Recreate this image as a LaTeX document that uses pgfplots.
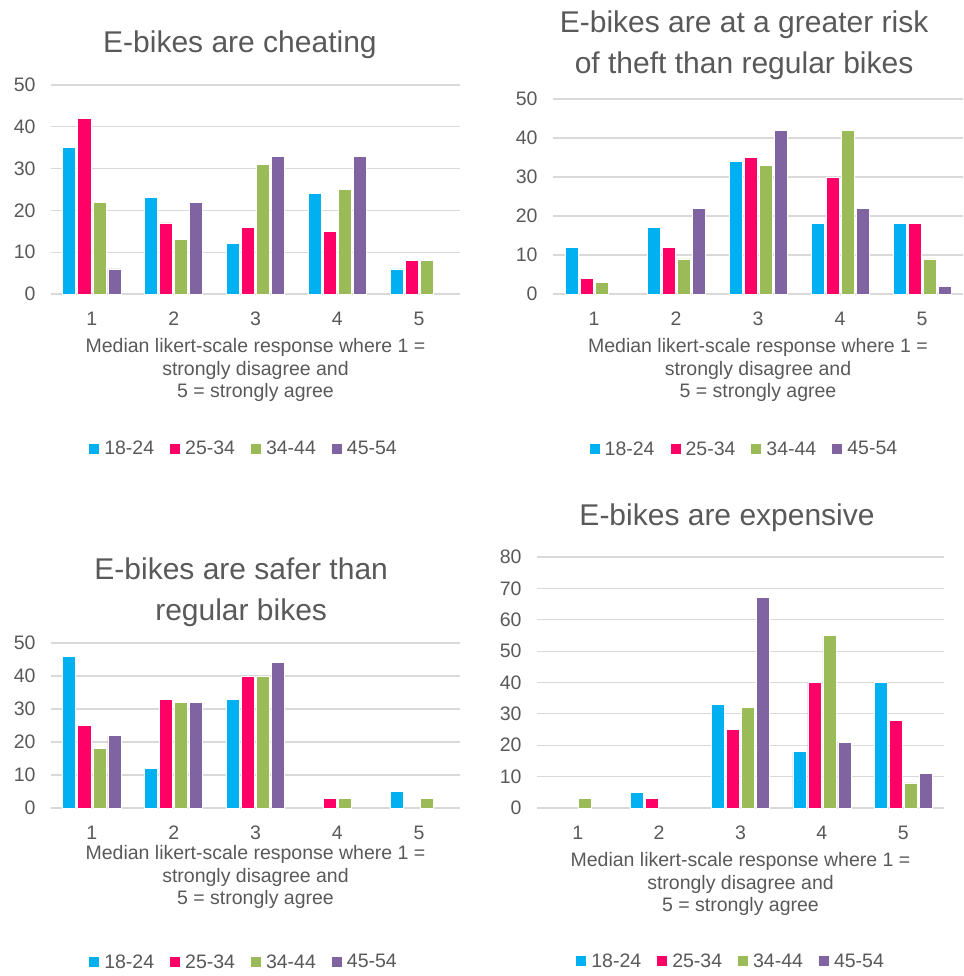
\documentclass[border=0pt]{standalone}
\usepackage{fontspec}
\setmainfont{Liberation Sans}
\usepackage{pgfplots}
\pgfplotsset{compat=1.18}
\definecolor{c1}{HTML}{00B0F0}
\definecolor{c2}{HTML}{FF0066}
\definecolor{c3}{HTML}{9BBB59}
\definecolor{c4}{HTML}{8064A2}
\definecolor{txt}{HTML}{595959}
\definecolor{gridc}{HTML}{D9D9D9}
\pgfplotsset{
 panel/.style={
  scale only axis,
  ybar=2pt, bar width=13pt,
  xmin=0.5, xmax=5.5,
  xtick={1,2,3,4,5},
  axis line style={draw=none},
  tick style={draw=none},
  ymajorgrids, grid style={gridc, line width=1.2pt},
  ymin=0,
  tick label style={font=\fontsize{19.5}{23}\selectfont, text=txt},
  /pgf/number format/assume math mode=true,
  xticklabel style={yshift=-10.5pt},
  yticklabel style={xshift=-12pt},
  title style={font=\fontsize{30}{41}\selectfont, text=txt, align=center, anchor=center},
  xlabel style={font=\fontsize{19.5}{22.7}\selectfont, text=txt, align=center, anchor=center},
  xlabel={Median likert-scale response where 1 =\\strongly disagree and\\5 = strongly agree},
  legend style={draw=none, fill=none, legend columns=4, font=\fontsize{19.5}{23}\selectfont, text=txt, anchor=center,
     /tikz/every even column/.append style={column sep=14pt}},
  legend image code/.code={\fill[#1,draw=none] (0pt,-5pt) rectangle (10pt,5pt); \path[draw=none,fill=none] (0pt,0pt) -- (13pt,0pt);},
 },
 s1/.style={fill=c1, draw=white, line width=0.8pt},
 s2/.style={fill=c2, draw=white, line width=0.8pt},
 s3/.style={fill=c3, draw=white, line width=0.8pt},
 s4/.style={fill=c4, draw=white, line width=0.8pt},
}
\begin{document}
\begin{tikzpicture}
\path[use as bounding box] (0pt,0pt) rectangle (963pt,-976pt);
% Panel 1
\begin{axis}[panel, at={(51pt,-294pt)}, anchor=south west, width=409pt, height=209pt,
  ymax=50, ytick={0,10,...,50},
  title={E-bikes are cheating}, title style={at={(axis description cs:0.462,1.163)}},
  xlabel style={at={(axis description cs:0.5,-0.364)}},
  legend style={at={(axis description cs:0.472,-0.74)}}]
\addplot[s1] coordinates {(1,35) (2,23) (3,12) (4,24) (5,6)};
\addplot[s2] coordinates {(1,42) (2,17) (3,16) (4,15) (5,8)};
\addplot[s3] coordinates {(1,22) (2,13) (3,31) (4,25) (5,8)};
\addplot[s4] coordinates {(1,6) (2,22) (3,33) (4,33)};
\legend{18-24,25-34,34-44,45-54}
\end{axis}
% Panel 2
\begin{axis}[panel, at={(553pt,-294pt)}, anchor=south west, width=410pt, height=195pt,
  ymax=50, ytick={0,10,...,50},
  title={E-bikes are at a greater risk\\of theft than regular bikes}, title style={at={(axis description cs:0.466,1.244)}},
  xlabel style={at={(axis description cs:0.5,-0.39)}},
  legend style={at={(axis description cs:0.467,-0.795)}}]
\addplot[s1] coordinates {(1,12) (2,17) (3,34) (4,18) (5,18)};
\addplot[s2] coordinates {(1,4) (2,12) (3,35) (4,30) (5,18)};
\addplot[s3] coordinates {(1,3) (2,9) (3,33) (4,42) (5,9)};
\addplot[s4] coordinates {(2,22) (3,42) (4,22) (5,2)};
\legend{18-24,25-34,34-44,45-54}
\end{axis}
% Panel 3
\begin{axis}[panel, at={(51pt,-808pt)}, anchor=south west, width=409pt, height=165pt,
  ymax=50, ytick={0,10,...,50},
  title={E-bikes are safer than\\regular bikes}, title style={at={(axis description cs:0.465,1.272)}},
  xlabel style={at={(axis description cs:0.5,-0.418)}},
  legend style={at={(axis description cs:0.472,-0.933)}}]
\addplot[s1] coordinates {(1,46) (2,12) (3,33) (5,5)};
\addplot[s2] coordinates {(1,25) (2,33) (3,40) (4,3)};
\addplot[s3] coordinates {(1,18) (2,32) (3,40) (4,3) (5,3)};
\addplot[s4] coordinates {(1,22) (2,32) (3,44)};
\legend{18-24,25-34,34-44,45-54}
\end{axis}
% Panel 4
\begin{axis}[panel, at={(537pt,-808pt)}, anchor=south west, width=407pt, height=251pt,
  ymax=80, ytick={0,10,...,80},
  title={E-bikes are expensive}, title style={at={(axis description cs:0.467,1.131)}},
  xlabel style={at={(axis description cs:0.5,-0.303)}},
  legend style={at={(axis description cs:0.477,-0.61)}}]
\addplot[s1] coordinates {(2,5) (3,33) (4,18) (5,40)};
\addplot[s2] coordinates {(2,3) (3,25) (4,40) (5,28)};
\addplot[s3] coordinates {(1,3) (3,32) (4,55) (5,8)};
\addplot[s4] coordinates {(3,67) (4,21) (5,11)};
\legend{18-24,25-34,34-44,45-54}
\end{axis}
\end{tikzpicture}
\end{document}
